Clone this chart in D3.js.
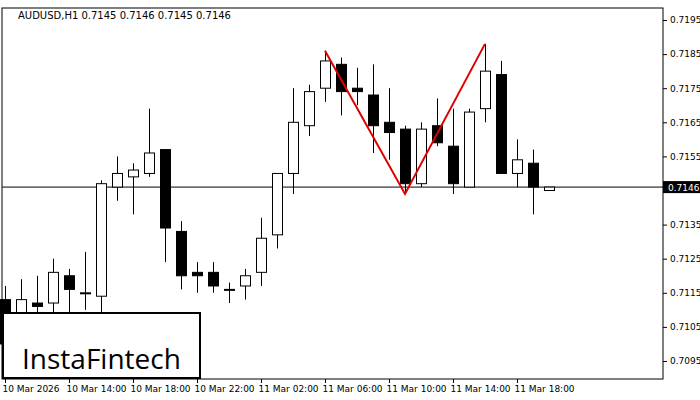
<!DOCTYPE html><html><head><meta charset="utf-8"><script src="https://cdn.jsdelivr.net/npm/d3@7"></script>
<style>body{margin:0;background:#fff}</style></head><body><svg id="c" width="700" height="400"></svg>
<script>
const opens=[0.7113,0.7100,0.7112,0.7112,0.7120,0.7115,0.7114,0.7146,0.7149,0.7150,0.7157,0.7133,0.7121,0.7121,0.7116,0.7117,0.7121,0.7132,0.7150,0.7164,0.7175,0.7182,0.7175,0.7173,0.7165,0.7163,0.7147,0.7164,0.7158,0.7146,0.7169,0.7179,0.7150,0.7153,0.7145];
const closes=[0.7100,0.7113,0.7111,0.7121,0.7116,0.7115,0.7147,0.7150,0.7151,0.7156,0.7134,0.7120,0.7120,0.7117,0.7116,0.7120,0.7131,0.7150,0.7165,0.7174,0.7183,0.7174,0.7174,0.7164,0.7162,0.7147,0.7163,0.7159,0.7147,0.7168,0.7180,0.7150,0.7154,0.7146,0.7146];
const highs=[0.7117,0.7119,0.7120,0.7125,0.7122,0.7127,0.7148,0.7155,0.7153,0.7169,0.7157,0.7136,0.7124,0.7124,0.7118,0.7122,0.7137,0.7150,0.7175,0.7176,0.7186,0.7184,0.7181,0.7182,0.7175,0.7164,0.7165,0.7172,0.7169,0.7169,0.7188,0.7183,0.7160,0.7157,0.7146];
const lows=[0.7095,0.7098,0.7098,0.7108,0.7105,0.7110,0.7109,0.7142,0.7138,0.7149,0.7124,0.7116,0.7115,0.7115,0.7112,0.7113,0.7117,0.7128,0.7144,0.7161,0.7171,0.7167,0.7170,0.7156,0.7154,0.7144,0.7146,0.7158,0.7144,0.7146,0.7165,0.7150,0.7146,0.7138,0.7145];
const xLabels=["10 Mar 2026","10 Mar 14:00","10 Mar 18:00","10 Mar 22:00","11 Mar 02:00","11 Mar 06:00","11 Mar 10:00","11 Mar 14:00","11 Mar 18:00"];
const yTicks=[0.7195,0.7185,0.7175,0.7165,0.7155,0.7135,0.7125,0.7115,0.7105,0.7095];
const patternIdx=[20,25,30];
const patternVals=[0.7186,0.7144,0.7188];
const lastPrice=0.7146;

const svg=d3.select("#c");
const x=d3.scaleLinear().domain([0,1]).range([5,21]);
const y=d3.scaleLinear().domain([0.7095,0.7195]).range([361,20]);
const L=2,R=663,T=8,B=379;
svg.append("rect").attr("x",L).attr("y",T).attr("width",R-L).attr("height",B-T).attr("fill","none").attr("stroke","#000");
const ax=svg.append("g").attr("transform",`translate(${R},0)`).call(d3.axisRight(y).tickValues(yTicks).tickFormat(d3.format(".4f")).tickSize(4));
ax.select(".domain").remove();
ax.selectAll("text").attr("font-family","DejaVu Sans").attr("font-size",9).attr("fill","#000");
const xa=svg.append("g").attr("transform",`translate(0,${B})`).call(d3.axisBottom(x).tickValues(xLabels.map((d,i)=>i*4)).tickFormat((d,i)=>xLabels[i]).tickSize(4));
xa.select(".domain").remove();
xa.selectAll("text").attr("text-anchor","start").attr("dx",-3).attr("font-family","DejaVu Sans").attr("font-size",9);
svg.append("line").attr("x1",L).attr("x2",R).attr("y1",y(lastPrice)).attr("y2",y(lastPrice)).attr("stroke","#000");
const g=svg.append("g");
opens.forEach((o,i)=>{
  const c=closes[i],cx=Math.round(x(i))+0.5;
  g.append("line").attr("x1",cx).attr("x2",cx).attr("y1",y(highs[i])).attr("y2",y(lows[i])).attr("stroke","#000");
  const top=y(Math.max(o,c)),h=Math.max(1,y(Math.min(o,c))-top);
  g.append("rect").attr("x",cx-5).attr("y",top).attr("width",10).attr("height",h).attr("fill",c<o?"#000":"#fff").attr("stroke","#000");
});
svg.append("path").attr("d",d3.line().x(d=>x(d[0])).y(d=>y(d[1]))(patternIdx.map((d,i)=>[d,patternVals[i]]))).attr("fill","none").attr("stroke","#e00000").attr("stroke-width",2);
svg.append("rect").attr("x",R).attr("y",y(lastPrice)-6).attr("width",37).attr("height",12).attr("fill","#000");
svg.append("text").attr("x",R+5).attr("y",y(lastPrice)+3.5).attr("fill","#fff").attr("font-family","DejaVu Sans").attr("font-size",9).text(d3.format(".4f")(lastPrice));
svg.append("text").attr("x",18).attr("y",19).attr("font-family","DejaVu Sans").attr("font-size",10).text("AUDUSD,H1  0.7145 0.7146 0.7145 0.7146");
svg.append("rect").attr("x",3).attr("y",313).attr("width",197).attr("height",65).attr("fill","#fff").attr("stroke","#000").attr("stroke-width",2);
svg.append("text").attr("x",22).attr("y",369).attr("font-family","Open Sans").attr("font-size",28).attr("fill","#000").text("InstaFintech");
</script></body></html>
